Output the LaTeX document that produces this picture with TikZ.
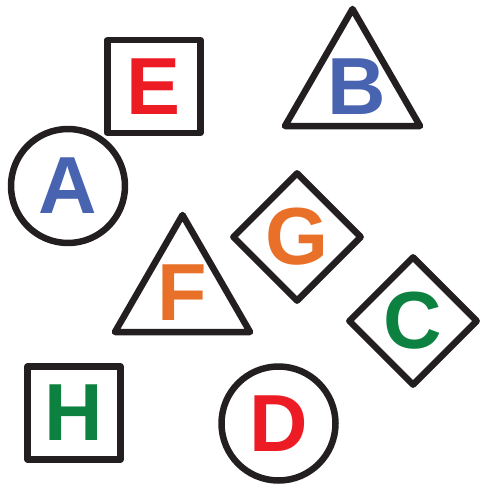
\documentclass[tikz,border=0pt]{standalone}
\usepackage{fontspec}
\setmainfont{Liberation Sans}
\usetikzlibrary{shapes.geometric}

\definecolor{inkblack}{RGB}{35,31,32}
\definecolor{letterblue}{RGB}{72,99,176}
\definecolor{letterred}{RGB}{237,28,36}
\definecolor{letterorange}{RGB}{232,112,40}
\definecolor{lettergreen}{RGB}{13,129,64}

\begin{document}
\begin{tikzpicture}[x=1pt, y=-1pt,
  outline/.style={draw=inkblack, line width=6.5pt, line join=round, inner sep=0pt},
  ring/.style={outline, circle, minimum size=114pt},
  box/.style={outline, rectangle, minimum size=93pt},
  tri/.style={outline, regular polygon, regular polygon sides=3, minimum size=156pt},
  kite/.style={outline, diamond, minimum width=130pt, minimum height=130pt},
  letter/.style={font=\fontsize{81}{81}\selectfont\bfseries, inner sep=0pt}
]
\useasboundingbox (0,0) rectangle (479,487);

% squares
\node[box, letter, text=letterred] (e) at (154,86.5) {E};
\node[box, letter, text=lettergreen] (h) at (74,413) {H};

% circles
\node[ring, letter, text=letterblue] (a) at (68,186) {A};
\node[ring, letter, text=letterred] (d) at (278.5,423.5) {D};

% diamonds
\node[kite, letter, text=letterorange] (g) at (297,237) {G};
\node[kite, letter, text=lettergreen] (c) at (413,321) {C};

% triangles
\node[tri] (b) at (352.5,87) {};
\node[letter, text=letterblue] (b-letter) at ([xshift=4pt]b.center) {B};
\node[tri] (f) at (182.5,293) {};
\node[letter, text=letterorange] (f-letter) at (f.center) {F};
\end{tikzpicture}
\end{document}
